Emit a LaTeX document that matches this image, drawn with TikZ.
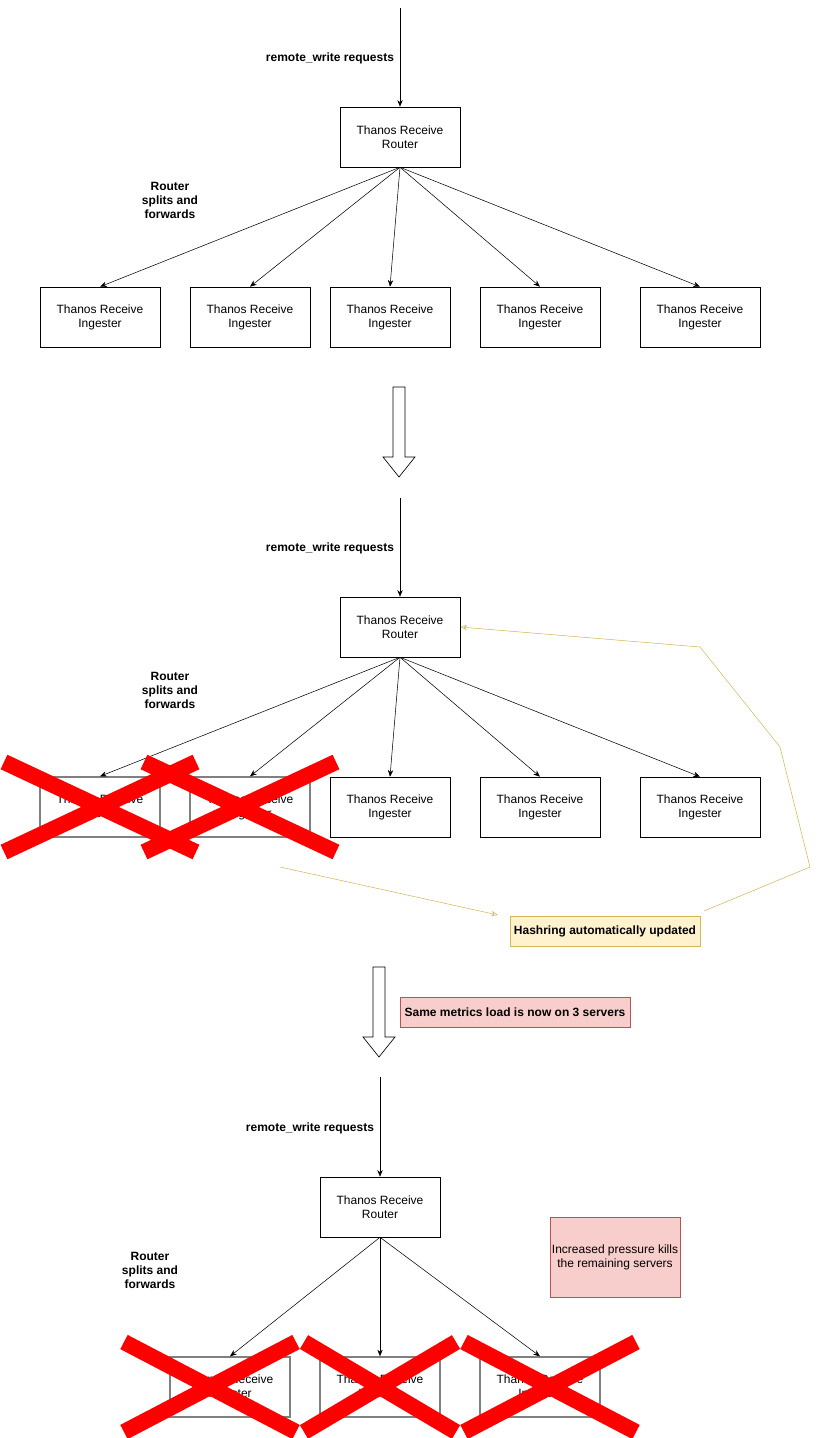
\documentclass[tikz,border=0pt]{standalone}
\usepackage{fontspec}
\setmainfont{Liberation Sans}
\usetikzlibrary{arrows.meta}
\definecolor{noteline}{HTML}{D6B656}
\definecolor{notefill}{HTML}{FFF2CC}
\definecolor{warnline}{HTML}{B85450}
\definecolor{warnfill}{HTML}{F8CECC}

\begin{document}
\begin{tikzpicture}[x=0.75pt,y=-0.75pt,
  box/.style={draw,minimum width=90pt,minimum height=45pt,inner sep=0pt,align=center,font=\fontsize{9}{10.5}\selectfont},
  dead/.style={box,draw=gray,line width=1pt},
  lbl/.style={font=\bfseries\fontsize{9}{10.5}\selectfont,align=center},
  flow/.style={-{Stealth[length=5pt,width=4pt]}},
  hint/.style={draw=noteline,-{Stealth[length=5pt,width=4pt,open]}},
  cross/.style={red,line width=12pt}]
\useasboundingbox (0,0) rectangle (819,1438);
\newcommand{\bigarrow}[2]{\draw [line width=0.5pt,fill=white] (#1-6,#2) -- (#1+6,#2) -- (#1+6,#2+70) -- (#1+16,#2+70) -- (#1,#2+90) -- (#1-16,#2+70) -- (#1-6,#2+70) -- cycle;}

% --- stage 1 ---
\coordinate (in1) at (400,8);
\node (r1) at (400,137) [box] {Thanos Receive\\Router};
\draw [flow] (in1) -- (r1);
\node (w1) at (330,58) [lbl] {remote\_write requests};
\node (s1) at (170,200) [lbl] {Router\\splits and\\forwards};
\foreach \n/\x in {a/100,b/250,c/390,d/540,e/700}{
  \node (i1\n) at (\x,317) [box] {Thanos Receive\\Ingester};
  \draw [flow] (r1.south) -- (i1\n.north);
}
\bigarrow{399}{387}

% --- stage 2 ---
\coordinate (in2) at (400,498);
\node (r2) at (400,627) [box] {Thanos Receive\\Router};
\draw [flow] (in2) -- (r2);
\node (w2) at (330,548) [lbl] {remote\_write requests};
\node (s2) at (170,690) [lbl] {Router\\splits and\\forwards};
\foreach \n/\x in {a/100,b/250}{
  \node (i2\n) at (\x,807) [dead] {Thanos Receive\\Ingester};
  \draw [flow] (r2.south) -- (i2\n.north);
}
\foreach \n/\x in {c/390,d/540,e/700}{
  \node (i2\n) at (\x,807) [box] {Thanos Receive\\Ingester};
  \draw [flow] (r2.south) -- (i2\n.north);
}
\foreach \x in {0,140}{
  \draw [cross] (\x+4,762) -- (\x+196,852);
  \draw [cross] (\x+4,852) -- (\x+196,762);
}
\node (h2) at (605,931) [box,lbl,minimum width=142.5pt,minimum height=22.5pt,draw=noteline,fill=notefill] {Hashring automatically updated};
\coordinate (f2) at (280,867);
\draw [hint] (f2) -- (498,915);
\draw [hint] (704,911) -- (810,867) -- (780,747) -- (700,647) -- (r2.east);
\bigarrow{379}{967}
\node (m2) at (515,1012) [box,lbl,minimum width=172.5pt,minimum height=22.5pt,draw=warnline,fill=warnfill] {Same metrics load is now on 3 servers};

% --- stage 3 ---
\coordinate (in3) at (380,1077);
\node (r3) at (380,1207) [box] {Thanos Receive\\Router};
\draw [flow] (in3) -- (r3);
\node (w3) at (310,1128) [lbl] {remote\_write requests};
\node (s3) at (150,1270) [lbl] {Router\\splits and\\forwards};
\node (p3) at (615,1257) [box,minimum width=97.5pt,minimum height=60pt,draw=warnline,fill=warnfill] {Increased pressure kills\\the remaining servers};
\foreach \n/\x in {a/230,b/380,c/540}{
  \node (i3\n) at (\x,1387) [dead] {Thanos Receive\\Ingester};
  \draw [flow] (r3.south) -- (i3\n.north);
}
\foreach \x/\w in {120/180,300/160,460/180}{
  \draw [cross] (\x+4,1342) -- (\x+\w-4,1432);
  \draw [cross] (\x+4,1432) -- (\x+\w-4,1342);
}
\end{tikzpicture}
\end{document}
